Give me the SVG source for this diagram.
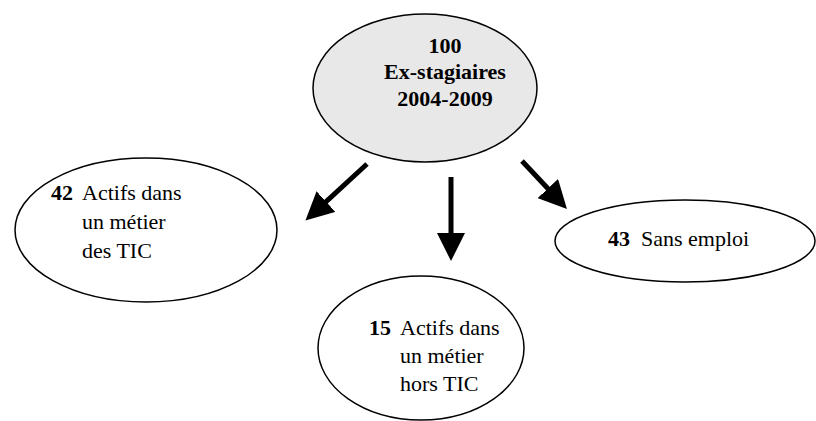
<svg xmlns="http://www.w3.org/2000/svg" width="816" height="421" viewBox="0 0 816 421">
<style>
.node ellipse{stroke:#000;stroke-width:1.5;fill:#fff}
#n100 ellipse{fill:#e8e8e8}
text{font-family:"Liberation Serif","Times New Roman",serif;font-size:22px;fill:#000}
.b{font-weight:bold}
.arrow{stroke:#000;stroke-width:5;fill:none}
</style>
<defs>
<marker id="ah" markerUnits="userSpaceOnUse" viewBox="0 0 28 28" refX="1" refY="14" markerWidth="28" markerHeight="28" orient="auto">
<path d="M0,0 L28,14 L0,28 Z" fill="#000"/>
</marker>
</defs>
<g id="n100" class="node">
<ellipse cx="425" cy="88" rx="112" ry="74"/>
<text class="b" x="445" y="53" text-anchor="middle">100</text>
<text class="b" x="445" y="79" text-anchor="middle">Ex-stagiaires</text>
<text class="b" x="445" y="106" text-anchor="middle">2004-2009</text>
</g>
<g id="n42" class="node">
<ellipse cx="146" cy="230" rx="131" ry="72"/>
<text x="51" y="200"><tspan class="b">42</tspan><tspan x="82">Actifs dans</tspan></text>
<text x="82" y="229">un métier</text>
<text x="82" y="258">des TIC</text>
</g>
<g id="n15" class="node">
<ellipse cx="421" cy="348" rx="103" ry="72"/>
<text x="369" y="335"><tspan class="b">15</tspan><tspan x="400">Actifs dans</tspan></text>
<text x="400" y="363">un métier</text>
<text x="400" y="391">hors TIC</text>
</g>
<g id="n43" class="node">
<ellipse cx="685" cy="241" rx="130" ry="41"/>
<text x="608" y="246"><tspan class="b">43</tspan><tspan x="641">Sans emploi</tspan></text>
</g>
<g id="connectors">
<line class="arrow" x1="367" y1="164" x2="325.3" y2="202.3" marker-end="url(#ah)"/>
<line class="arrow" x1="451" y1="177" x2="451" y2="234" marker-end="url(#ah)"/>
<line class="arrow" x1="522" y1="161" x2="548.5" y2="189.3" marker-end="url(#ah)"/>
</g>
</svg>
